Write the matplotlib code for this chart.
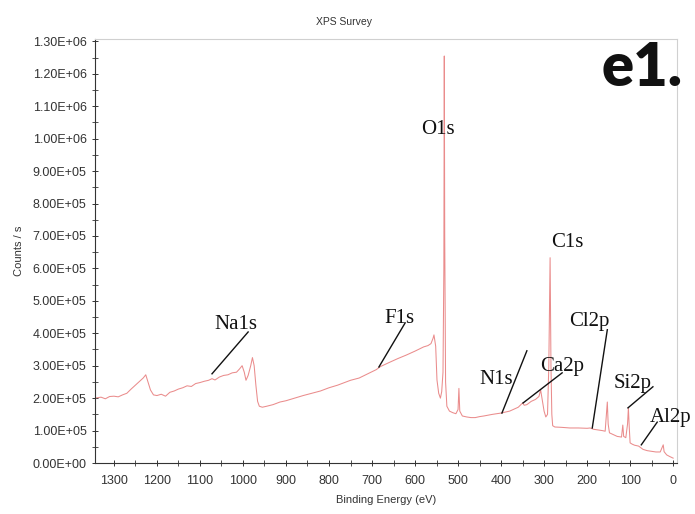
import matplotlib
matplotlib.use("Agg")
import matplotlib.pyplot as plt
from matplotlib.ticker import MultipleLocator, FuncFormatter

# ---- data (binding energy eV, counts/s) ----
energy = [1344, 1330, 1320, 1310, 1300, 1290, 1280, 1270, 1260, 1250, 1240, 1232, 1226,
          1222, 1215, 1208, 1200, 1190, 1180, 1170, 1160, 1150, 1140, 1130, 1120, 1110,
          1100, 1090, 1080, 1072, 1065, 1055, 1045, 1035, 1025, 1015, 1008, 1002, 997,
          993, 988, 982, 978, 974, 970, 966, 962, 955, 945, 930, 914, 900, 880, 860,
          840, 820, 800, 780, 760, 750, 730, 710, 690, 681, 660, 640, 620, 600, 580,
          570, 563, 558, 556, 552, 549, 545, 541, 538, 535, 533, 532, 531, 529, 526,
          520, 512, 505, 500, 498, 496, 490, 480, 470, 460, 450, 440, 420, 400, 380,
          360, 350, 346, 340, 330, 320, 312, 308, 305, 300, 296, 292, 289, 286, 284,
          282, 280, 275, 260, 240, 220, 200, 193, 185, 175, 165, 158, 155, 153, 151,
          148, 140, 130, 120, 117, 115, 110, 106, 104, 102, 100, 95, 90, 80, 77, 70,
          60, 40, 30, 25, 23, 21, 15, 8, 0]
counts_k = [200, 203, 198, 205, 206, 204, 210, 215, 228, 240, 252, 262, 272,
            255, 225, 210, 208, 212, 206, 218, 222, 228, 232, 238, 236, 245,
            248, 252, 255, 260, 256, 265, 270, 272, 278, 280, 290, 300, 280,
            255, 270, 300, 325, 300, 240, 190, 175, 172, 175, 180, 188, 192, 200, 208,
            215, 222, 232, 240, 250, 255, 262, 275, 288, 297, 310, 322, 333, 345, 358,
            362, 368, 385, 395, 360, 256, 215, 200, 220, 280, 600, 1255, 700, 250, 175,
            160, 155, 152, 165, 230, 160, 145, 142, 140, 140, 143, 145, 150, 154, 160,
            172, 185, 178, 180, 190, 196, 205, 225, 200, 160, 142, 150, 300, 633, 300,
            150, 115, 111, 110, 108, 108, 107, 108, 104, 102, 100, 98, 150, 188, 120,
            93, 88, 82, 80, 117, 82, 78, 120, 170, 110, 62, 58, 55, 52, 49, 42,
            38, 34, 34, 50, 56, 35, 25, 20, 15]
counts = [c * 1000 for c in counts_k]

# peak labels: text, text centre (E, counts), leader line start, leader line end
labels = ["O1s", "C1s", "Na1s", "F1s", "Cl2p", "N1s", "Ca2p", "Si2p", "Al2p"]
label_pos = [(547, 1028e3), (246, 679e3), (1016, 426e3), (637, 447e3), (195, 435e3),
             (412, 256e3), (258, 299e3), (93, 244e3), (7, 139e3)]
leader_from = [None, None, (988, 404e3), (623, 432e3), (153, 411e3),
               (340, 346e3), (258, 278e3), (47, 235e3), (37, 126e3)]
leader_to = [None, None, (1072, 275e3), (684, 296e3), (188, 108e3),
             (398, 154e3), (349, 185e3), (105, 170e3), (74, 56e3)]

fig = plt.figure(figsize=(6.95, 5.14), dpi=100)
ax = fig.add_axes([95 / 695, 1 - 463 / 514, (677 - 95) / 695, (463 - 39) / 514])

ax.plot(energy, counts, color="#ea8c8c", lw=0.75)

ax.set_xlim(1344, -9)
ax.set_ylim(0, 1.3074e6)
ax.xaxis.set_major_locator(MultipleLocator(100))
ax.xaxis.set_minor_locator(MultipleLocator(50))
ax.yaxis.set_major_locator(MultipleLocator(1e5))
ax.yaxis.set_minor_locator(MultipleLocator(5e4))
ax.yaxis.set_major_formatter(FuncFormatter(lambda v, p: f"{v:.2E}"))
ax.tick_params(which="both", direction="inout", colors="#333333",
               labelsize=9, labelcolor="#333333")
ax.tick_params(which="major", length=5, width=0.7)
ax.tick_params(which="minor", length=4, width=0.6)
for lab in ax.get_xticklabels() + ax.get_yticklabels():
    lab.set_family("Liberation Sans")
ax.tick_params(axis="x", pad=6)

for s in ["top", "right"]:
    ax.spines[s].set_color("#d0d0d0")
    ax.spines[s].set_linewidth(0.8)
for s in ["left", "bottom"]:
    ax.spines[s].set_color("#333333")
    ax.spines[s].set_linewidth(0.8)

ax.set_xlabel("Binding Energy (eV)", fontsize=8, family="Liberation Sans",
              color="#333333", labelpad=6)
ax.set_ylabel("Counts / s", fontsize=8, family="Liberation Sans",
              color="#333333", labelpad=6)
fig.text(0.495, 1 - 22 / 514, "XPS Survey", ha="center", va="center",
         fontsize=7.5, family="Liberation Sans", color="#333333")

for t, pos, a, b in zip(labels, label_pos, leader_from, leader_to):
    ax.text(pos[0], pos[1], t, ha="center", va="center", fontsize=15,
            family="Liberation Serif", color="#111111")
    if a is not None:
        ax.plot([a[0], b[0]], [a[1], b[1]], color="#111111", lw=1.0)

fig.text(602 / 695, 1 - 86 / 514, "e1.", ha="left", va="baseline",
         fontsize=43, family="Lato", weight="heavy", color="#111111")

fig.savefig("out.png", dpi=100)
